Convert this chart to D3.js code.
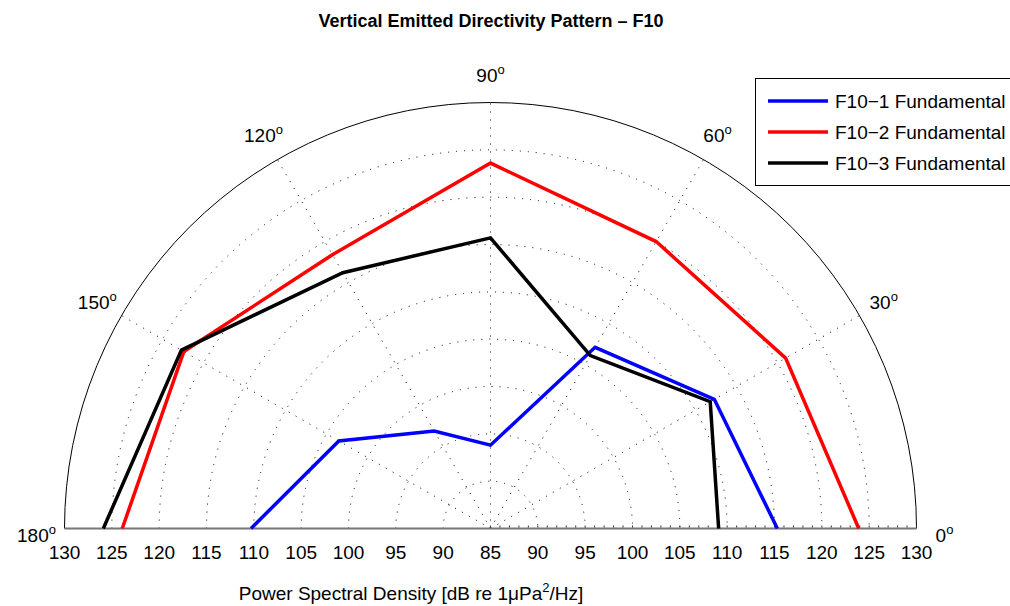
<!DOCTYPE html>
<html lang="en">
<head>
<meta charset="utf-8">
<title>Vertical Emitted Directivity Pattern</title>
<script src="https://cdn.jsdelivr.net/npm/d3@7"></script>
<style>
  body { margin: 0; background: #fff; }
  text { font-family: "Liberation Sans", Arial, Helvetica, sans-serif; fill: #000; }
</style>
</head>
<body>
<script>
// angles in degrees, values in dB re 1uPa^2/Hz
var angles = [0, 30, 60, 90, 120, 150, 180];
var f10_1 = [115.3, 112.3, 107.1, 93.8, 96.9, 103.5, 110.3];
var f10_2 = [123.9, 121.0, 120.0, 123.6, 118.4, 122.4, 123.9];
var f10_3 = [109.1, 111.8, 106.1, 115.7, 116.2, 122.7, 125.9];
var seriesNames = ["F10\u22121 Fundamental", "F10\u22122 Fundamental", "F10\u22123 Fundamental"];
var seriesColors = ["#0000ff", "#ff0000", "#000000"];

var ringValues = [90, 95, 100, 105, 110, 115, 120, 125];
var spokeAngles = [30, 60, 90, 120, 150];
var angleLabels = [0, 30, 60, 90, 120, 150, 180];
var tickLeft = [130, 125, 120, 115, 110, 105, 100, 95, 90];
var tickRight = [85, 90, 95, 100, 105, 110, 115, 120, 125, 130];

var w = 1010, h = 606;
var cx = 490.5, cy = 528.5;

var svg = d3.select("body").append("svg")
    .attr("width", w)
    .attr("height", h);

var r = d3.scaleLinear().domain([85, 130]).range([0, 426]);
var rad = function(deg) { return deg * Math.PI / 180; };

var g = svg.append("g").attr("transform", "translate(" + cx + "," + cy + ")");

// dotted rings
g.selectAll("path.ring")
    .data(ringValues)
    .enter()
    .append("path")
    .attr("class", "ring")
    .attr("d", function(d) {
        var rr = r(d);
        return "M" + (-rr) + ",0 A" + rr + "," + rr + " 0 0 1 " + rr + ",0";
    })
    .attr("fill", "none")
    .attr("stroke", "#000")
    .attr("stroke-width", 1)
    .attr("stroke-dasharray", "1,7");

// dotted spokes
g.selectAll("line.spoke")
    .data(spokeAngles)
    .enter()
    .append("line")
    .attr("x1", 0).attr("y1", 0)
    .attr("x2", function(d) { return r(130) * Math.cos(rad(d)); })
    .attr("y2", function(d) { return -r(130) * Math.sin(rad(d)); })
    .attr("stroke", "#000")
    .attr("stroke-width", 1)
    .attr("stroke-dasharray", "1,7");

// outer arc
g.append("path")
    .attr("d", "M" + (-r(130)) + ",0 A" + r(130) + "," + r(130) + " 0 0 1 " + r(130) + ",0")
    .attr("fill", "none")
    .attr("stroke", "#000")
    .attr("stroke-width", 1);

// baseline with minor ticks on the right half
g.append("line")
    .attr("x1", -r(130)).attr("x2", r(130))
    .attr("y1", 0).attr("y2", 0)
    .attr("stroke", "#777")
    .attr("stroke-width", 2);
g.selectAll("line.minor")
    .data(d3.range(85, 131, 1))
    .enter()
    .append("line")
    .attr("x1", function(d) { return r(d); })
    .attr("x2", function(d) { return r(d); })
    .attr("y1", -1).attr("y2", -3)
    .attr("stroke", "#333")
    .attr("stroke-width", 1);

// data lines
var radial = d3.lineRadial()
    .angle(function(d) { return Math.PI / 2 - rad(d[0]); })
    .radius(function(d) { return r(d[1]); });

[f10_1, f10_2, f10_3].forEach(function(vals, i) {
    g.append("path")
        .datum(angles.map(function(a, j) { return [a, vals[j]]; }))
        .attr("d", radial)
        .attr("fill", "none")
        .attr("stroke", seriesColors[i])
        .attr("stroke-width", 3.5)
        .attr("stroke-linejoin", "miter");
});

// angle labels
var lab = g.selectAll("text.ang")
    .data(angleLabels)
    .enter()
    .append("text")
    .attr("class", "ang")
    .attr("x", function(d) { return 454 * Math.cos(rad(d)); })
    .attr("y", function(d) { return -454 * Math.sin(rad(d)) + 7 + ((d === 0 || d === 180) ? 6 : 0); })
    .attr("text-anchor", "middle")
    .style("font-size", "19px");
lab.append("tspan").text(function(d) { return d; });
lab.append("tspan").attr("dy", -8).style("font-size", "13px").text("o");

// radial tick labels along the baseline
var ticks = tickLeft.map(function(v) { return { v: v, x: -r(v) }; })
    .concat(tickRight.map(function(v) { return { v: v, x: r(v) }; }));
g.selectAll("text.tick")
    .data(ticks)
    .enter()
    .append("text")
    .attr("x", function(d) { return d.x; })
    .attr("y", 30)
    .attr("text-anchor", "middle")
    .style("font-size", "19px")
    .text(function(d) { return d.v; });

// title
svg.append("text")
    .attr("x", 491)
    .attr("y", 27)
    .attr("text-anchor", "middle")
    .style("font-size", "18px")
    .style("font-weight", "bold")
    .text("Vertical Emitted Directivity Pattern \u2013 F10");

// x label
var xl = svg.append("text")
    .attr("x", 411)
    .attr("y", 600)
    .attr("text-anchor", "middle")
    .style("font-size", "19px");
xl.append("tspan").text("Power Spectral Density [dB re 1\u03bcPa");
xl.append("tspan").attr("dy", -8).style("font-size", "13px").text("2");
xl.append("tspan").attr("dy", 8).text("/Hz]");

// legend
var lg = svg.append("g").attr("transform", "translate(755,78)");
lg.append("rect")
    .attr("x", 0.5).attr("y", 0.5)
    .attr("width", 270).attr("height", 107)
    .attr("fill", "#fff")
    .attr("stroke", "#000")
    .attr("stroke-width", 1);
var items = lg.selectAll("g.item")
    .data(seriesNames)
    .enter()
    .append("g")
    .attr("transform", function(d, i) { return "translate(0," + (23 + i * 31) + ")"; });
items.append("line")
    .attr("x1", 13).attr("x2", 73)
    .attr("y1", 0).attr("y2", 0)
    .attr("stroke", function(d, i) { return seriesColors[i]; })
    .attr("stroke-width", 3.5);
items.append("text")
    .attr("x", 80)
    .attr("y", 7)
    .style("font-size", "19px")
    .text(function(d) { return d; });
</script>
</body>
</html>
